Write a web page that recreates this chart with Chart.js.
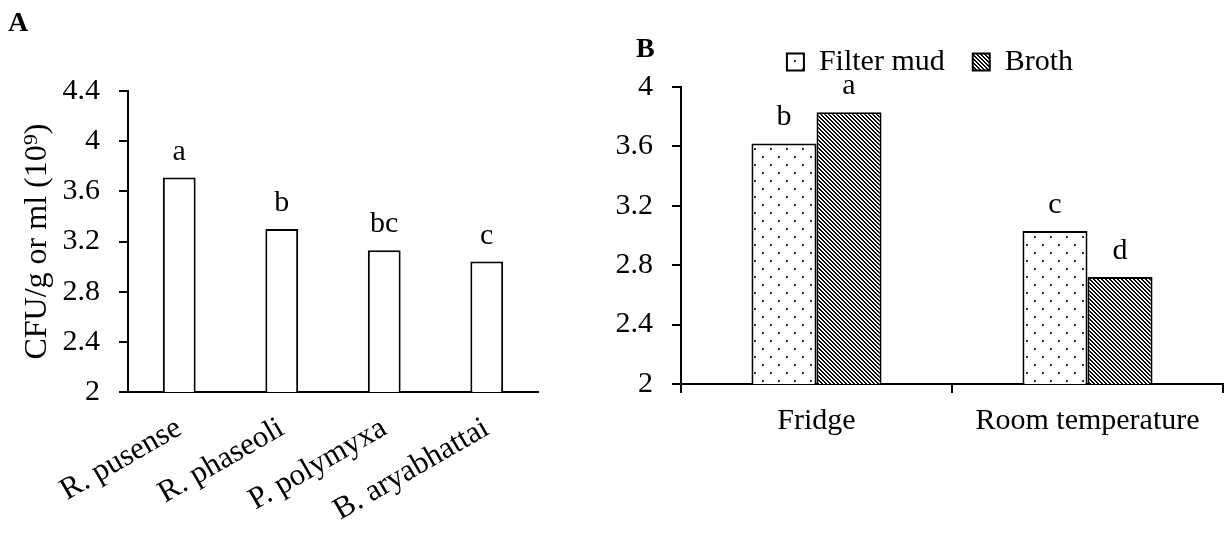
<!DOCTYPE html>
<html>
<head>
<meta charset="utf-8">
<script src="https://cdn.jsdelivr.net/npm/chart.js@4"></script>
<style>
    html, body { margin: 0; padding: 0; background: #fff; overflow: hidden; }
    body { width: 1228px; height: 540px; position: relative; }
    .wrap { position: absolute; top: 0; height: 540px; }
    #wrapA { left: 0; width: 560px; }
    #wrapB { left: 590px; width: 670px; }
    .panel { position: absolute; font-family: 'Liberation Serif', 'Times New Roman', serif; font-weight: bold; font-size: 28px; color: #000; }
</style>
</head>
<body>
<div class="wrap" id="wrapA"><canvas id="chartA" width="560" height="540"></canvas></div>
<div class="wrap" id="wrapB"><canvas id="chartB" width="670" height="540"></canvas></div>
<div class="panel" style="left:8px; top:6px;">A</div>
<div class="panel" style="left:636px; top:32px;">B</div>
<script>
// Panel A: strains
const strains = ['R. pusense', 'R. phaseoli', 'P. polymyxa', 'B. aryabhattai'];
const strainCfu = [3.71, 3.30, 3.13, 3.04];
const strainLetters = ['a', 'b', 'bc', 'c'];
const yTicksA = [2, 2.4, 2.8, 3.2, 3.6, 4, 4.4];

// Panel B: storage conditions
const storage = ['Fridge', 'Room temperature'];
const filterMud = [3.62, 3.03];
const broth = [3.83, 2.72];
const filterMudLetters = ['b', 'c'];
const brothLetters = ['a', 'd'];
const yTicksB = [2, 2.4, 2.8, 3.2, 3.6, 4];

const serif = "'Liberation Serif', 'Times New Roman', serif";
Chart.defaults.color = '#000';
Chart.defaults.font.family = serif;

function dotPattern(ctx) {
    const c = document.createElement('canvas');
    c.width = 16; c.height = 16;
    const g = c.getContext('2d');
    g.fillStyle = '#fff';
    g.fillRect(0, 0, 16, 16);
    g.fillStyle = '#333';
    g.fillRect(4, 4, 2, 2);
    g.fillRect(12, 12, 2, 2);
    return ctx.createPattern(c, 'repeat');
}

function hatchPattern(ctx) {
    const c = document.createElement('canvas');
    c.width = 4; c.height = 4;
    const g = c.getContext('2d');
    g.fillStyle = '#fff';
    g.fillRect(0, 0, 4, 4);
    g.fillStyle = '#000';
    for (let i = 0; i < 4; i++) {
        g.fillRect(i, i, 1, 1);
        g.fillRect((i + 1) % 4, i, 1, 1);
    }
    return ctx.createPattern(c, 'repeat');
}

// significance letters above each bar
const letterLabels = {
    id: 'letterLabels',
    afterDatasetsDraw(chart) {
        const ctx = chart.ctx;
        ctx.save();
        ctx.font = '30px ' + serif;
        ctx.fillStyle = '#000';
        ctx.textAlign = 'center';
        ctx.textBaseline = 'alphabetic';
        chart.data.datasets.forEach((ds, i) => {
            chart.getDatasetMeta(i).data.forEach((bar, j) => {
                ctx.fillText(ds.letters[j], bar.x, bar.y - 18);
            });
        });
        ctx.restore();
    }
};

function initStrainChart() {
    const ctx = document.getElementById('chartA');
    if (!ctx) return;

    new Chart(ctx, {
        type: 'bar',
        data: {
            labels: strains,
            datasets: [{
                data: strainCfu,
                letters: strainLetters,
                backgroundColor: '#fff',
                borderColor: '#000',
                borderWidth: 2,
                categoryPercentage: 0.32,
                barPercentage: 1
            }]
        },
        options: {
            responsive: false,
            animation: false,
            layout: { padding: { left: 15, top: 91, right: 22, bottom: 0 } },
            plugins: {
                legend: { display: false },
                tooltip: { enabled: false }
            },
            scales: {
                x: {
                    grid: { display: false, drawTicks: false },
                    border: { color: '#000', width: 2 },
                    ticks: {
                        font: { size: 31 },
                        minRotation: 30,
                        maxRotation: 30,
                        autoSkip: false,
                        padding: 18
                    },
                    afterFit: s => { s.height = 148; }
                },
                y: {
                    min: 2,
                    max: 4.4,
                    afterBuildTicks: s => { s.ticks = yTicksA.map(v => ({ value: v })); },
                    grid: { drawOnChartArea: false, tickLength: 9, color: '#000', lineWidth: 2 },
                    border: { color: '#000', width: 2 },
                    ticks: { font: { size: 30 }, padding: 19, callback: v => String(v) },
                    title: {
                        display: true,
                        text: 'CFU/g or ml (10⁹)',
                        font: { size: 32 },
                        padding: { top: 3, bottom: 0 }
                    },
                    afterFit: s => { s.width = 113; }
                }
            }
        },
        plugins: [letterLabels]
    });
}

function initStorageChart() {
    const ctx = document.getElementById('chartB');
    if (!ctx) return;
    const g = ctx.getContext('2d');

    new Chart(ctx, {
        type: 'bar',
        data: {
            labels: storage,
            datasets: [{
                label: 'Filter mud',
                data: filterMud,
                letters: filterMudLetters,
                backgroundColor: dotPattern(g),
                borderColor: '#000',
                borderWidth: 2
            }, {
                label: 'Broth',
                data: broth,
                letters: brothLetters,
                backgroundColor: hatchPattern(g),
                borderColor: '#000',
                borderWidth: 2
            }]
        },
        options: {
            responsive: false,
            animation: false,
            datasets: { bar: { categoryPercentage: 0.48, barPercentage: 1 } },
            layout: { padding: { left: 15, top: 13, right: 5, bottom: 0 } },
            plugins: {
                legend: {
                    position: 'top',
                    labels: {
                        font: { size: 30 },
                        boxWidth: 17,
                        boxHeight: 17,
                        padding: 28
                    }
                },
                tooltip: { enabled: false }
            },
            scales: {
                x: {
                    grid: { drawOnChartArea: false, tickLength: 9, color: '#000', lineWidth: 2 },
                    border: { color: '#000', width: 2 },
                    ticks: { font: { size: 30 }, maxRotation: 0, padding: 10 },
                    afterFit: s => { s.height = 156; }
                },
                y: {
                    min: 2,
                    max: 4,
                    afterBuildTicks: s => { s.ticks = yTicksB.map(v => ({ value: v })); },
                    grid: { drawOnChartArea: false, tickLength: 9, color: '#000', lineWidth: 2 },
                    border: { color: '#000', width: 2 },
                    ticks: { font: { size: 30 }, padding: 19, callback: v => String(v) },
                    // keep the plot top at the same height as the reference
                    afterFit: s => { s.width = 76; s.paddingTop = 87; }
                },
                // empty right-hand spacer so the legend sits where it does in the reference
                y2: {
                    position: 'right',
                    grid: { display: false, drawTicks: false },
                    border: { display: false },
                    ticks: { display: false },
                    afterFit: s => { s.width = 32; }
                }
            }
        },
        plugins: [letterLabels]
    });
}

initStrainChart();
initStorageChart();
</script>
</body>
</html>
